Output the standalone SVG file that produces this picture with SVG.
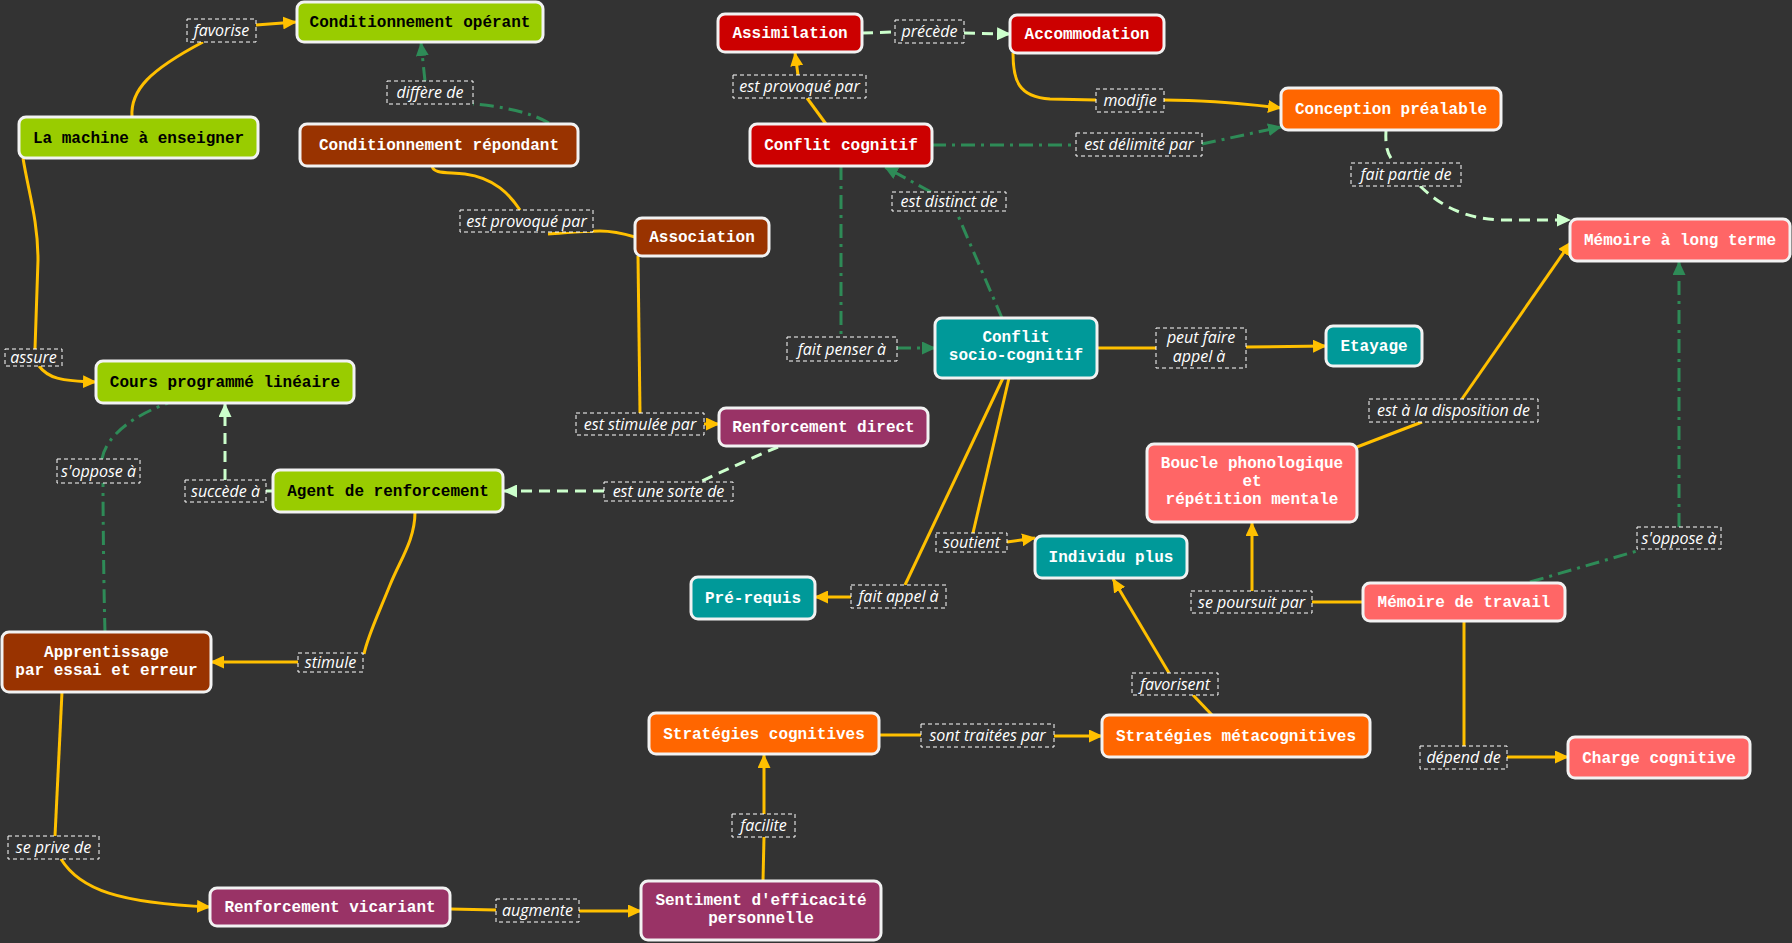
<svg xmlns="http://www.w3.org/2000/svg" width="1792" height="943" viewBox="0 0 1792 943">
<style>
.nd rect{stroke:#f2f2f2;stroke-width:3}
.nt{font-family:"Liberation Mono","Courier New",monospace;font-weight:bold;font-size:16px;text-anchor:middle;fill:#ffffff}
.dk{fill:#000000}
.gr{fill:#99cc00}.br{fill:#993300}.rd{fill:#cc0000}.or{fill:#ff6600}.te{fill:#009999}.sa{fill:#ff6666}.pu{fill:#993366}
.lb rect{fill:#333333;stroke:#ffffff;stroke-width:1;stroke-dasharray:4 3}
.lb text{font-family:"Open Sans","Noto Sans",sans-serif;font-style:italic;font-size:16px;fill:#ffffff;text-anchor:middle}
.y{stroke:#ffc000;stroke-width:3;fill:none}
.g{stroke:#2e8b57;stroke-width:3;fill:none;stroke-dasharray:14 6 3 6}
.l{stroke:#ccffcc;stroke-width:3;fill:none;stroke-dasharray:11 7}
</style>
<defs>
<marker id="ay" markerUnits="userSpaceOnUse" markerWidth="14" markerHeight="13" refX="13" refY="6.5" orient="auto"><path d="M0,0 L14,6.5 L0,13 z" fill="#ffc000"/></marker>
<marker id="ag" markerUnits="userSpaceOnUse" markerWidth="14" markerHeight="13" refX="13" refY="6.5" orient="auto"><path d="M0,0 L14,6.5 L0,13 z" fill="#2e8b57"/></marker>
<marker id="al" markerUnits="userSpaceOnUse" markerWidth="14" markerHeight="13" refX="13" refY="6.5" orient="auto"><path d="M0,0 L14,6.5 L0,13 z" fill="#ccffcc"/></marker>
</defs>
<rect x="0" y="0" width="1792" height="943" fill="#333333"/>

<g id="connectors">
<g id="c-favorise"><path class="y" d="M132,117 C130,90 150,70 203,42"/><path class="y" marker-end="url(#ay)" d="M256,25 L296,22"/>
<g class="lb"><rect x="187" y="19" width="69" height="23"/><text x="221.5" y="36">favorise</text></g></g>
<g id="c-assure"><path class="y" d="M23,158 C28,190 38,220 38,260 L35,349"/><path class="y" marker-end="url(#ay)" d="M39,366 C48,378 60,381 96,382"/>
<g class="lb"><rect x="5" y="349" width="57" height="17"/><text x="33.5" y="363">assure</text></g></g>
<g id="c-differe"><path class="g" d="M549,123 C530,112 500,106 473,104"/><path class="g" marker-end="url(#ag)" d="M425,81 L421,43"/>
<g class="lb"><rect x="387" y="81" width="86" height="23"/><text x="430" y="98">diffère de</text></g></g>
<g id="c-provoque1"><path class="y" d="M432,166 C434,174 445,172 465,174 C495,178 510,195 520,210"/><path class="y" d="M548,234 C565,233 580,231 600,231 C615,231 625,234 635,237"/>
<g class="lb"><rect x="460" y="210" width="133" height="22"/><text x="526.5" y="227">est provoqué par</text></g></g>
<g id="c-stimulee"><path class="y" d="M638,256 L640,413"/><path class="y" marker-end="url(#ay)" d="M704,424 L719,424"/>
<g class="lb"><rect x="576" y="413" width="128" height="22"/><text x="640" y="430">est stimulée par</text></g></g>
<g id="c-sorte"><path class="l" d="M778,447 Q740,463 700,482"/><path class="l" marker-end="url(#al)" d="M604,491 L504,491"/>
<g class="lb"><rect x="604" y="482" width="129" height="19"/><text x="668.5" y="497">est une sorte de</text></g></g>
<g id="c-succede"><path class="l" d="M273,491 L266,491"/><path class="l" marker-end="url(#al)" d="M225,480 L225,404"/>
<g class="lb"><rect x="185" y="480" width="81" height="22"/><text x="225.5" y="497">succède à</text></g></g>
<g id="c-oppose1"><path class="g" d="M105,632 C104,600 103,520 103,483"/><path class="g" d="M102,459 C106,435 135,415 168,403"/>
<g class="lb"><rect x="57" y="459" width="83" height="24"/><text x="98.5" y="477">s'oppose à</text></g></g>
<g id="c-stimule"><path class="y" d="M415,512 C415,540 400,560 390,585 C378,615 368,635 364,654"/><path class="y" marker-end="url(#ay)" d="M298,662 L211,662"/>
<g class="lb"><rect x="298" y="653" width="65" height="19"/><text x="330.5" y="668">stimule</text></g></g>
<g id="c-prive"><path class="y" d="M62,692 L55,836"/><path class="y" marker-end="url(#ay)" d="M61,859 C80,890 120,903 210,907"/>
<g class="lb"><rect x="8" y="836" width="91" height="23"/><text x="53.5" y="853">se prive de</text></g></g>
<g id="c-augmente"><path class="y" d="M450,909 L496,910"/><path class="y" marker-end="url(#ay)" d="M579,911 L641,911"/>
<g class="lb"><rect x="496" y="899" width="83" height="23"/><text x="537.5" y="916">augmente</text></g></g>
<g id="c-facilite"><path class="y" d="M763,881 L764,837"/><path class="y" marker-end="url(#ay)" d="M764,814 L764,755"/>
<g class="lb"><rect x="732" y="814" width="63" height="23"/><text x="763.5" y="831">facilite</text></g></g>
<g id="c-traitees"><path class="y" d="M879,735 L921,735"/><path class="y" marker-end="url(#ay)" d="M1054,736 L1102,736"/>
<g class="lb"><rect x="921" y="724" width="133" height="23"/><text x="987.5" y="741">sont traitées par</text></g></g>
<g id="c-favorisent"><path class="y" d="M1212,715 L1193,695"/><path class="y" marker-end="url(#ay)" d="M1169,673 L1113,579"/>
<g class="lb"><rect x="1132" y="673" width="86" height="22"/><text x="1175" y="690">favorisent</text></g></g>
<g id="c-appel"><path class="y" d="M1003,378 L905,585"/><path class="y" marker-end="url(#ay)" d="M851,597 L815,597"/>
<g class="lb"><rect x="851" y="585" width="95" height="23"/><text x="898.5" y="602">fait appel à</text></g></g>
<g id="c-soutient"><path class="y" d="M1009,378 L973,533"/><path class="y" marker-end="url(#ay)" d="M1007,542 L1035,538"/>
<g class="lb"><rect x="936" y="533" width="71" height="19"/><text x="971.5" y="548">soutient</text></g></g>
<g id="c-peut"><path class="y" d="M1097,348 L1156,348"/><path class="y" marker-end="url(#ay)" d="M1246,347 L1326,346"/>
<g class="lb"><rect x="1156" y="328" width="90" height="40"/><text x="1201" y="343">peut faire</text><text x="1199" y="362">appel à</text></g></g>
<g id="c-penser"><path class="g" d="M841,166 L841,337"/><path class="g" marker-end="url(#ag)" d="M897,348 L935,348"/>
<g class="lb"><rect x="787" y="337" width="110" height="24"/><text x="842" y="355">fait penser à</text></g></g>
<g id="c-distinct"><path class="g" d="M1002,318 L956,211"/><path class="g" marker-end="url(#ag)" d="M931,192 L885,167"/>
<g class="lb"><rect x="892" y="192" width="114" height="19"/><text x="949" y="207">est distinct de</text></g></g>
<g id="c-provoque2"><path class="y" d="M826,124 L807,98"/><path class="y" marker-end="url(#ay)" d="M798,75 L795,53"/>
<g class="lb"><rect x="733" y="75" width="133" height="23"/><text x="799.5" y="92">est provoqué par</text></g></g>
<g id="c-precede"><path class="l" d="M862,33 L895,32"/><path class="l" marker-end="url(#al)" d="M964,33 L1010,34"/>
<g class="lb"><rect x="895" y="20" width="69" height="23"/><text x="929.5" y="37">précède</text></g></g>
<g id="c-modifie"><path class="y" d="M1013,53 C1013,80 1018,97 1050,99 L1096,100"/><path class="y" marker-end="url(#ay)" d="M1164,100 C1200,100 1240,103 1281,108"/>
<g class="lb"><rect x="1096" y="89" width="68" height="23"/><text x="1130" y="106">modifie</text></g></g>
<g id="c-delimite"><path class="g" d="M932,145 L1076,145"/><path class="g" marker-end="url(#ag)" d="M1202,144 L1281,127"/>
<g class="lb"><rect x="1076" y="133" width="126" height="23"/><text x="1139" y="150">est délimité par</text></g></g>
<g id="c-partie"><path class="l" d="M1386,130 C1385,148 1388,156 1395,163"/><path class="l" marker-end="url(#al)" d="M1420,186 C1440,205 1462,218 1500,220 L1570,220"/>
<g class="lb"><rect x="1351" y="163" width="110" height="23"/><text x="1406" y="180">fait partie de</text></g></g>
<g id="c-disposition"><path class="y" d="M1357,447 L1422,422"/><path class="y" marker-end="url(#ay)" d="M1462,399 L1571,242"/>
<g class="lb"><rect x="1369" y="399" width="169" height="23"/><text x="1453.5" y="416">est à la disposition de</text></g></g>
<g id="c-poursuit"><path class="y" d="M1363,602 L1312,602"/><path class="y" marker-end="url(#ay)" d="M1252,591 L1252,523"/>
<g class="lb"><rect x="1191" y="591" width="121" height="22"/><text x="1251.5" y="608">se poursuit par</text></g></g>
<g id="c-oppose2"><path class="g" d="M1530,582 L1637,551"/><path class="g" marker-end="url(#ag)" d="M1679,527 L1679,262"/>
<g class="lb"><rect x="1637" y="527" width="84" height="22"/><text x="1679" y="544">s'oppose à</text></g></g>
<g id="c-depend"><path class="y" d="M1464,621 L1464,746"/><path class="y" marker-end="url(#ay)" d="M1507,757 L1568,757"/>
<g class="lb"><rect x="1420" y="746" width="87" height="23"/><text x="1463.5" y="763">dépend de</text></g></g>
</g>

<g id="n-cond-operant" class="nd"><rect class="gr" x="297" y="2" width="246" height="40" rx="7"/><text class="nt dk" x="420" y="27">Conditionnement opérant</text></g>
<g id="n-machine" class="nd"><rect class="gr" x="19" y="117" width="239" height="41" rx="7"/><text class="nt dk" x="138.5" y="142.5">La machine à enseigner</text></g>
<g id="n-cond-repondant" class="nd"><rect class="br" x="300" y="124" width="278" height="42" rx="7"/><text class="nt" x="439" y="150">Conditionnement répondant</text></g>
<g id="n-cours" class="nd"><rect class="gr" x="96" y="361" width="258" height="42" rx="7"/><text class="nt dk" x="225" y="387">Cours programmé linéaire</text></g>
<g id="n-association" class="nd"><rect class="br" x="635" y="218" width="134" height="38" rx="7"/><text class="nt" x="702" y="242">Association</text></g>
<g id="n-assimilation" class="nd"><rect class="rd" x="718" y="14" width="144" height="38" rx="7"/><text class="nt" x="790" y="38">Assimilation</text></g>
<g id="n-accommodation" class="nd"><rect class="rd" x="1010" y="15" width="154" height="38" rx="7"/><text class="nt" x="1087" y="39">Accommodation</text></g>
<g id="n-conflit-cognitif" class="nd"><rect class="rd" x="750" y="124" width="182" height="42" rx="7"/><text class="nt" x="841" y="150">Conflit cognitif</text></g>
<g id="n-conflit-socio" class="nd"><rect class="te" x="935" y="318" width="162" height="60" rx="7"/><text class="nt" x="1016" y="342">Conflit</text><text class="nt" x="1016" y="360">socio-cognitif</text></g>
<g id="n-conception" class="nd"><rect class="or" x="1281" y="88" width="220" height="42" rx="7"/><text class="nt" x="1391" y="114">Conception préalable</text></g>
<g id="n-mlt" class="nd"><rect class="sa" x="1570" y="219" width="220" height="42" rx="7"/><text class="nt" x="1680" y="245">Mémoire à long terme</text></g>
<g id="n-etayage" class="nd"><rect class="te" x="1326" y="326" width="96" height="40" rx="7"/><text class="nt" x="1374" y="351">Etayage</text></g>
<g id="n-renf-direct" class="nd"><rect class="pu" x="719" y="408" width="209" height="38" rx="7"/><text class="nt" x="823.5" y="432">Renforcement direct</text></g>
<g id="n-agent" class="nd"><rect class="gr" x="273" y="470" width="230" height="42" rx="7"/><text class="nt dk" x="388" y="496">Agent de renforcement</text></g>
<g id="n-apprentissage" class="nd"><rect class="br" x="2" y="632" width="209" height="60" rx="7"/><text class="nt" x="106.5" y="657">Apprentissage</text><text class="nt" x="106.5" y="675">par essai et erreur</text></g>
<g id="n-renf-vicariant" class="nd"><rect class="pu" x="210" y="888" width="240" height="38" rx="7"/><text class="nt" x="330" y="912">Renforcement vicariant</text></g>
<g id="n-sentiment" class="nd"><rect class="pu" x="641" y="881" width="240" height="59" rx="7"/><text class="nt" x="761" y="905">Sentiment d'efficacité</text><text class="nt" x="761" y="923">personnelle</text></g>
<g id="n-strat-cog" class="nd"><rect class="or" x="649" y="713" width="230" height="41" rx="7"/><text class="nt" x="764" y="738.5">Stratégies cognitives</text></g>
<g id="n-strat-meta" class="nd"><rect class="or" x="1102" y="715" width="268" height="42" rx="7"/><text class="nt" x="1236" y="741">Stratégies métacognitives</text></g>
<g id="n-prerequis" class="nd"><rect class="te" x="691" y="577" width="124" height="42" rx="7"/><text class="nt" x="753" y="603">Pré-requis</text></g>
<g id="n-individu" class="nd"><rect class="te" x="1035" y="536" width="152" height="42" rx="7"/><text class="nt" x="1111" y="562">Individu plus</text></g>
<g id="n-boucle" class="nd"><rect class="sa" x="1147" y="444" width="210" height="78" rx="7"/><text class="nt" x="1252" y="468">Boucle phonologique</text><text class="nt" x="1252" y="486">et</text><text class="nt" x="1252" y="504">répétition mentale</text></g>
<g id="n-mem-travail" class="nd"><rect class="sa" x="1363" y="583" width="202" height="38" rx="7"/><text class="nt" x="1464" y="607">Mémoire de travail</text></g>
<g id="n-charge" class="nd"><rect class="sa" x="1568" y="737" width="182" height="41" rx="7"/><text class="nt" x="1659" y="762.5">Charge cognitive</text></g>
</svg>
